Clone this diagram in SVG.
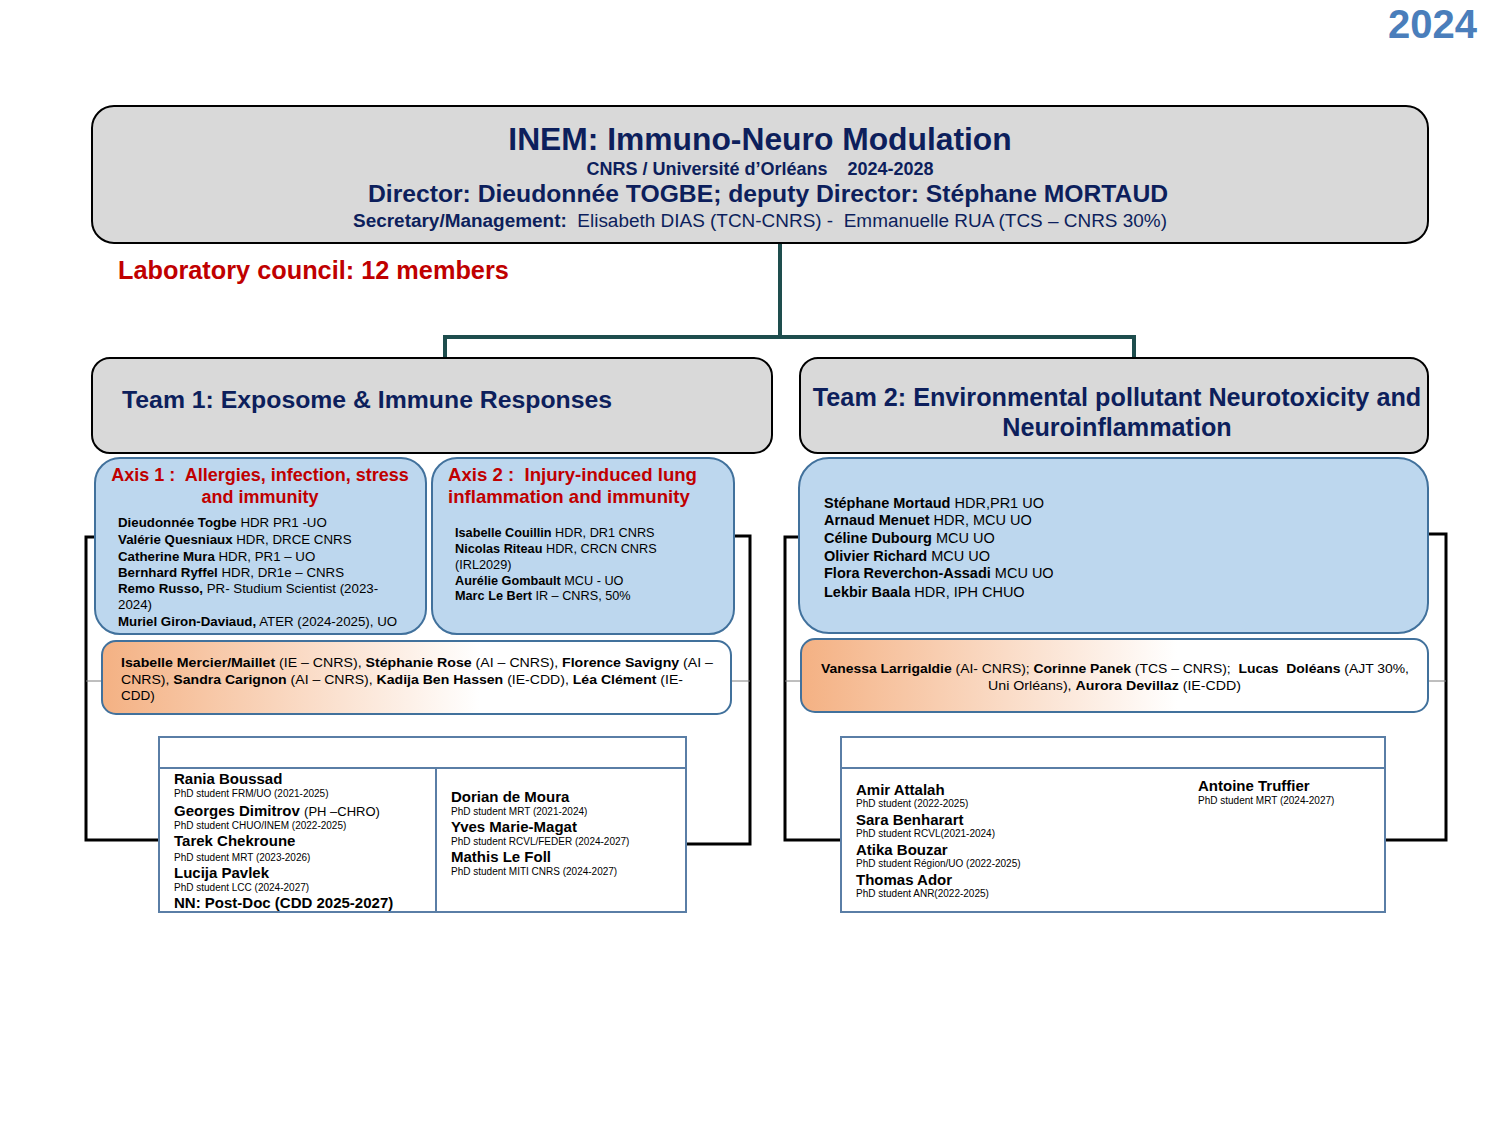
<svg xmlns="http://www.w3.org/2000/svg" width="1500" height="1125" viewBox="0 0 1500 1125">
<defs>
<linearGradient id="og" x1="0" y1="0" x2="1" y2="0">
<stop offset="0" stop-color="#f4b183"/>
<stop offset="0.6" stop-color="#ffffff"/>
<stop offset="1" stop-color="#ffffff"/>
</linearGradient>
<style>
text{font-family:"Liberation Sans",Arial,sans-serif;}
.navy{fill:#0d1f5c;font-weight:bold;}
.red{fill:#c00000;font-weight:bold;}
.gray{fill:#d9d9d9;stroke:#000;stroke-width:2;}
.blue{fill:#bdd7ee;stroke:#41719c;stroke-width:2;}
.orange{fill:url(#og);stroke:#41719c;stroke-width:2;}
.phd{fill:#fff;stroke:#5a7ea6;stroke-width:2;}
.t{fill:#000;font-size:13px;}
.b{font-weight:bold;}
.nm{font-size:15px;font-weight:bold;fill:#000;}
.sm{font-size:10px;fill:#000;}
.tree{fill:none;stroke:#1e4d4d;stroke-width:4;}
.blk{fill:none;stroke:#000;stroke-width:3;}
.thin{fill:none;stroke:#7f7f7f;stroke-width:1;}
</style>
</defs>
<rect width="1500" height="1125" fill="#fff"/>
<text x="1477" y="38" text-anchor="end" style="font-size:40px;font-weight:bold;fill:#4a7ebb">2024</text>

<g id="connectors">
<path class="tree" d="M780,243 V337 M445,337 H1134 M445,335 V358 M1134,335 V358"/>
<path class="blk" d="M95,537 H86 V840 H159"/>
<path class="blk" d="M734,536 H750 V844 H686"/>
<path class="thin" d="M86,681 H102 M731,681 H750"/>
<path class="blk" d="M799,537 H785 V840 H841"/>
<path class="blk" d="M1428,534 H1446 V840 H1386"/>
<path class="thin" d="M785,681 H801 M1428,681 H1446"/>
</g>

<g id="header">
<rect class="gray" x="92" y="106" width="1336" height="137" rx="22"/>
<text x="760" y="150" text-anchor="middle" class="navy" style="font-size:31.8px">INEM: Immuno-Neuro Modulation</text>
<text x="760" y="175" text-anchor="middle" class="navy" style="font-size:18px" xml:space="preserve">CNRS / Université d’Orléans    2024-2028</text>
<text x="768" y="202" text-anchor="middle" class="navy" style="font-size:24.7px">Director: Dieudonnée TOGBE; deputy Director: Stéphane MORTAUD</text>
<text x="353" y="227" style="font-size:18px;fill:#0d1f5c" xml:space="preserve" textLength="814" lengthAdjust="spacingAndGlyphs"><tspan font-weight="bold">Secretary/Management:</tspan>  Elisabeth DIAS (TCN-CNRS) -  Emmanuelle RUA (TCS – CNRS 30%)</text>
</g>

<g id="council">
<text x="118" y="279" class="red" style="font-size:25.3px">Laboratory council: 12 members</text>
</g>

<g id="team1">
<rect class="gray" x="92" y="358" width="680" height="95" rx="18"/>
<text x="122" y="408" class="navy" style="font-size:24.8px">Team 1: Exposome &amp; Immune Responses</text>
</g>

<g id="team2">
<rect class="gray" x="800" y="358" width="628" height="95" rx="18"/>
<text x="1117" y="406" text-anchor="middle" class="navy" style="font-size:25.2px">Team 2: Environmental pollutant Neurotoxicity and</text>
<text x="1117" y="436" text-anchor="middle" class="navy" style="font-size:25.2px">Neuroinflammation</text>
</g>

<g id="axis1">
<rect class="blue" x="95" y="458" width="331" height="176" rx="25"/>
<text x="260" y="481" text-anchor="middle" class="red" style="font-size:18px" xml:space="preserve">Axis 1 :  Allergies, infection, stress</text>
<text x="260" y="503" text-anchor="middle" class="red" style="font-size:18px">and immunity</text>
<text x="118" y="527" class="t" style="font-size:13.3px"><tspan class="b">Dieudonnée Togbe</tspan> HDR PR1 -UO</text>
<text x="118" y="544" class="t" style="font-size:13.3px"><tspan class="b">Valérie Quesniaux</tspan> HDR, DRCE CNRS</text>
<text x="118" y="561" class="t" style="font-size:13.3px"><tspan class="b">Catherine Mura</tspan> HDR, PR1 – UO</text>
<text x="118" y="577" class="t" style="font-size:13.3px"><tspan class="b">Bernhard Ryffel</tspan> HDR, DR1e – CNRS</text>
<text x="118" y="593" class="t" style="font-size:13.3px"><tspan class="b">Remo Russo,</tspan> PR- Studium Scientist (2023-</text>
<text x="118" y="609" class="t" style="font-size:13.3px">2024)</text>
<text x="118" y="626" class="t" style="font-size:13.3px"><tspan class="b">Muriel Giron-Daviaud,</tspan> ATER (2024-2025), UO</text>
</g>

<g id="axis2">
<rect class="blue" x="432" y="458" width="302" height="176" rx="25"/>
<text x="448" y="481" class="red" style="font-size:18.6px" xml:space="preserve">Axis 2 :  Injury-induced lung</text>
<text x="448" y="503" class="red" style="font-size:18.6px">inflammation and immunity</text>
<text x="455" y="537" class="t" style="font-size:12.7px"><tspan class="b">Isabelle Couillin</tspan> HDR, DR1  CNRS</text>
<text x="455" y="553" class="t" style="font-size:12.7px"><tspan class="b">Nicolas Riteau</tspan> HDR, CRCN CNRS</text>
<text x="455" y="569" class="t" style="font-size:12.7px">(IRL2029)</text>
<text x="455" y="585" class="t" style="font-size:12.7px"><tspan class="b">Aurélie Gombault</tspan> MCU - UO</text>
<text x="455" y="600" class="t" style="font-size:12.7px"><tspan class="b">Marc Le Bert</tspan> IR – CNRS, 50%</text>
</g>

<g id="staff1">
<rect class="orange" x="102" y="641" width="629" height="73" rx="14"/>
<text x="121" y="667" class="t" style="font-size:13.5px" textLength="592" lengthAdjust="spacingAndGlyphs"><tspan class="b">Isabelle Mercier/Maillet</tspan> (IE – CNRS), <tspan class="b">Stéphanie Rose</tspan> (AI – CNRS), <tspan class="b">Florence Savigny</tspan> (AI –</text>
<text x="121" y="684" class="t" style="font-size:13.5px" textLength="562" lengthAdjust="spacingAndGlyphs">CNRS), <tspan class="b">Sandra Carignon</tspan> (AI – CNRS), <tspan class="b">Kadija Ben Hassen</tspan> (IE-CDD), <tspan class="b">Léa Clément</tspan> (IE-</text>
<text x="121" y="700" class="t" style="font-size:13.5px">CDD)</text>
</g>

<g id="phd1">
<rect class="phd" x="159" y="737" width="527" height="175"/>
<path class="phd" d="M159,768 H686 M436,768 V912"/>
<text x="174" y="784" class="nm">Rania Boussad</text>
<text x="174" y="797" class="sm">PhD student FRM/UO (2021-2025)</text>
<text x="174" y="816" class="nm">Georges Dimitrov <tspan font-weight="normal" font-size="13px">(PH –CHRO)</tspan></text>
<text x="174" y="829" class="sm">PhD student CHUO/INEM (2022-2025)</text>
<text x="174" y="846" class="nm">Tarek Chekroune</text>
<text x="174" y="861" class="sm">PhD student MRT (2023-2026)</text>
<text x="174" y="878" class="nm">Lucija Pavlek</text>
<text x="174" y="891" class="sm">PhD student LCC (2024-2027)</text>
<text x="174" y="908" class="nm">NN: Post-Doc (CDD 2025-2027)</text>
<text x="451" y="802" class="nm">Dorian de Moura</text>
<text x="451" y="815" class="sm">PhD student MRT (2021-2024)</text>
<text x="451" y="832" class="nm">Yves Marie-Magat</text>
<text x="451" y="845" class="sm">PhD student RCVL/FEDER (2024-2027)</text>
<text x="451" y="862" class="nm">Mathis Le Foll</text>
<text x="451" y="875" class="sm">PhD student MITI CNRS (2024-2027)</text>
</g>

<g id="members2">
<rect class="blue" x="799" y="458" width="629" height="175" rx="30"/>
<text x="824" y="508" class="t" style="font-size:14.5px"><tspan class="b">Stéphane Mortaud</tspan> HDR,PR1 UO</text>
<text x="824" y="525" class="t" style="font-size:14.5px"><tspan class="b">Arnaud Menuet</tspan> HDR, MCU UO</text>
<text x="824" y="543" class="t" style="font-size:14.5px"><tspan class="b">Céline Dubourg</tspan> MCU UO</text>
<text x="824" y="561" class="t" style="font-size:14.5px"><tspan class="b">Olivier Richard</tspan> MCU UO</text>
<text x="824" y="578" class="t" style="font-size:14.5px"><tspan class="b">Flora Reverchon-Assadi</tspan> MCU UO</text>
<text x="824" y="597" class="t" style="font-size:14.5px"><tspan class="b">Lekbir Baala</tspan> HDR, IPH CHUO</text>
</g>

<g id="staff2">
<rect class="orange" x="801" y="639" width="627" height="73" rx="14"/>
<text x="821" y="673" class="t" style="font-size:13.5px" xml:space="preserve" textLength="588" lengthAdjust="spacingAndGlyphs"><tspan class="b">Vanessa Larrigaldie</tspan> (AI- CNRS); <tspan class="b">Corinne Panek</tspan> (TCS – CNRS);  <tspan class="b">Lucas  Doléans</tspan> (AJT 30%,</text>
<text x="988" y="690" class="t" style="font-size:13.5px" textLength="253" lengthAdjust="spacingAndGlyphs">Uni Orléans), <tspan class="b">Aurora Devillaz</tspan> (IE-CDD)</text>
</g>

<g id="phd2">
<rect class="phd" x="841" y="737" width="544" height="175"/>
<path class="phd" d="M841,768 H1385"/>
<text x="856" y="795" class="nm">Amir Attalah</text>
<text x="856" y="807" class="sm">PhD student (2022-2025)</text>
<text x="856" y="825" class="nm">Sara Benharart</text>
<text x="856" y="837" class="sm">PhD student RCVL(2021-2024)</text>
<text x="856" y="855" class="nm">Atika Bouzar</text>
<text x="856" y="867" class="sm">PhD student Région/UO (2022-2025)</text>
<text x="856" y="885" class="nm">Thomas Ador</text>
<text x="856" y="897" class="sm">PhD student ANR(2022-2025)</text>
<text x="1198" y="791" class="nm">Antoine Truffier</text>
<text x="1198" y="804" class="sm">PhD student MRT (2024-2027)</text>
</g>
</svg>
